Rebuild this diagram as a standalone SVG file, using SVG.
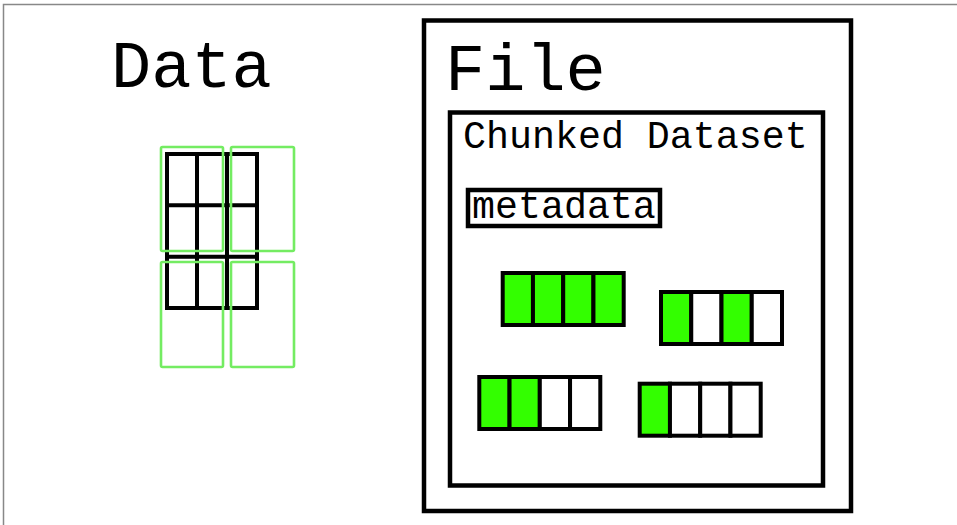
<svg xmlns="http://www.w3.org/2000/svg" width="957" height="525" viewBox="0 0 957 525">
<style>
.t{font-family:"Liberation Mono","Courier New",monospace;fill:#000}
.big{font-size:67px}
.mid{font-size:38.3px}
.box{fill:#fff;stroke:#000;stroke-width:4.5}
.cell{stroke:#000;stroke-width:4}
.g{fill:#33ff00}
.w{fill:#fff}
.grn{fill:none;stroke:#74ec62;stroke-width:2.6;stroke-linejoin:round}
.grid{fill:none;stroke:#000;stroke-width:4}
</style>
<rect width="957" height="525" fill="#fff"/>
<path d="M3.5 525V4.5H957" fill="none" stroke="#888" stroke-width="1.5"/>
<g id="data">
<text class="t big" x="111" y="87">Data</text>
<g id="data-grid" class="grid">
<rect x="167" y="154" width="90" height="154"/>
<path d="M197 154V308M227 154V308M167 205.3H257M167 256.7H257"/>
</g>
<g id="data-chunks" class="grn">
<rect x="161" y="147" width="62" height="104" rx="1.5"/>
<rect x="231" y="147" width="63" height="104" rx="1.5"/>
<rect x="161" y="262" width="62" height="105" rx="1.5"/>
<rect x="231" y="262" width="63" height="105" rx="1.5"/>
</g>
</g>
<g id="file">
<rect class="box" x="424" y="20.5" width="427" height="490.5" stroke-width="5"/>
<text class="t big" x="445" y="90">File</text>
</g>
<g id="dataset">
<rect class="box" x="450" y="112.5" width="373" height="373"/>
<text class="t mid" x="463" y="148">Chunked Dataset</text>
</g>
<g id="metadata">
<rect class="box" x="468" y="190" width="192" height="36" stroke-width="4"/>
<text class="t mid" x="472" y="218">metadata</text>
</g>
<g id="chunk1" transform="translate(502.7,273)">
<rect class="cell g" x="0" y="0" width="30.25" height="52"/>
<rect class="cell g" x="30.25" y="0" width="30.25" height="52"/>
<rect class="cell g" x="60.5" y="0" width="30.25" height="52"/>
<rect class="cell g" x="90.75" y="0" width="30.25" height="52"/>
</g>
<g id="chunk2" transform="translate(661,292)">
<rect class="cell g" x="0" y="0" width="30.25" height="52"/>
<rect class="cell w" x="30.25" y="0" width="30.25" height="52"/>
<rect class="cell g" x="60.5" y="0" width="30.25" height="52"/>
<rect class="cell w" x="90.75" y="0" width="30.25" height="52"/>
</g>
<g id="chunk3" transform="translate(479.3,377)">
<rect class="cell g" x="0" y="0" width="30.25" height="52"/>
<rect class="cell g" x="30.25" y="0" width="30.25" height="52"/>
<rect class="cell w" x="60.5" y="0" width="30.25" height="52"/>
<rect class="cell w" x="90.75" y="0" width="30.25" height="52"/>
</g>
<g id="chunk4" transform="translate(639.7,383.7)">
<rect class="cell g" x="0" y="0" width="30.25" height="52"/>
<rect class="cell w" x="30.25" y="0" width="30.25" height="52"/>
<rect class="cell w" x="60.5" y="0" width="30.25" height="52"/>
<rect class="cell w" x="90.75" y="0" width="30.25" height="52"/>
</g>
<g id="connectors"></g>
</svg>
